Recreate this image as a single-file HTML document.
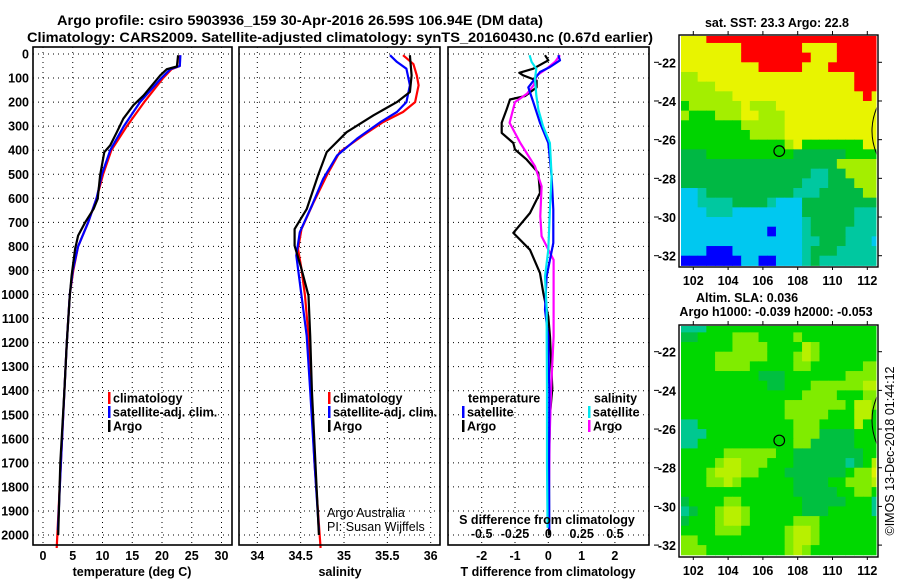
<!DOCTYPE html>
<html><head><meta charset="utf-8">
<style>
html,body{margin:0;padding:0;background:#fff;}
svg{display:block;font-family:"Liberation Sans",sans-serif;}
.tk{font-size:12.5px;font-weight:bold;fill:#000;}
.lg{font-size:12.5px;font-weight:bold;fill:#000;}
.nb{font-size:12.5px;font-weight:normal;fill:#000;}
</style></head>
<body>
<svg id="fig" width="900" height="580" viewBox="0 0 900 580" xmlns="http://www.w3.org/2000/svg">
<rect width="900" height="580" fill="#fff"/>
<text x="57" y="25" font-size="14" font-weight="bold" textLength="486" lengthAdjust="spacingAndGlyphs">Argo profile: csiro 5903936_159 30-Apr-2016 26.59S 106.94E (DM data)</text>
<text x="27" y="42" font-size="14" font-weight="bold" textLength="626" lengthAdjust="spacingAndGlyphs">Climatology: CARS2009. Satellite-adjusted climatology: synTS_20160430.nc (0.67d earlier)</text>
<g id="layer"></g>
</svg>
<script>
// ---------- profile data ----------
const tArgoDepth = [5,52,63,89,172,213,269,325,380,408,505,602,644,700,755,811,922,1005,1200,1400,1700,2000];
const tArgoVal   = [22.7,22.5,20.8,19.7,16.9,15.2,13.5,12.4,11.3,10.3,9.6,9.2,8.5,7.1,5.9,5.4,4.8,4.5,4.0,3.6,2.9,2.55];
const tClimDepth = [5,50,63,100,200,300,400,500,600,700,800,900,1000,1200,1400,1700,2054];
const tClimVal   = [23.0,23.0,21.6,20.2,17.0,14.1,11.5,10.1,9.0,7.6,5.9,5.1,4.5,4.0,3.6,3.0,2.3];
const tSatDepth  = [5,50,63,100,200,300,400,500,600,700,800,900,1000,1200,1400,1700,1980];
const tSatVal    = [23.1,23.0,21.4,19.9,16.3,13.6,11.3,9.9,9.0,7.6,5.9,5.0,4.5,4.0,3.6,3.0,2.5];

const sArgoDepth = [5,89,158,200,255,325,408,505,645,728,797,894,1005,1172,1400,1700,2000];
const sArgoVal   = [35.76,35.78,35.76,35.61,35.34,35.03,34.80,34.70,34.57,34.43,34.43,34.51,34.59,34.61,34.63,34.67,34.71];
const sClimDepth = [5,42,89,130,200,241,283,338,408,505,616,728,811,894,1005,1172,1400,1700,2054];
const sClimVal   = [35.68,35.80,35.84,35.86,35.82,35.68,35.45,35.22,34.95,34.80,34.65,34.51,34.47,34.51,34.55,34.59,34.62,34.66,34.73];
const sSatDepth  = [5,33,61,130,200,241,283,352,422,519,630,741,838,950,1172,1400,1700,1980];
const sSatVal    = [35.53,35.61,35.72,35.76,35.72,35.61,35.42,35.15,34.92,34.76,34.63,34.49,34.45,34.49,34.57,34.61,34.66,34.71];

const dtArgoDepth = [5,26,61,78,89,110,139,175,189,230,286,328,370,397,439,494,578,661,744,814,911,994,1092,1175,1390,1500,1700,2000];
const dtArgoVal   = [-0.1,0,-0.45,-0.87,-0.75,-0.35,-0.35,-0.7,-1.15,-1.25,-1.4,-1.4,-1.05,-1.0,-0.65,-0.3,-0.25,-0.55,-1.05,-0.55,-0.25,-0.15,0,0.05,0.12,0.05,0.02,0.02];
const dtSatDepth  = [5,26,54,75,139,200,286,370,508,647,786,925,1064,1175,1400,1700,1980];
const dtSatVal    = [0.3,0.35,0.05,-0.25,-0.6,-0.45,-0.25,0,0.1,0.15,0.15,-0.05,-0.1,0,0.03,0.02,0.03];
const dsArgoDepth = [5,33,61,89,130,165,200,286,370,467,550,675,758,800,856,994,1175,1400,1600,1800];
const dsArgoVal   = [0.088,0.05,-0.012,-0.087,-0.11,-0.16,-0.25,-0.29,-0.21,-0.1,-0.05,-0.06,-0.05,-0.012,0.04,0.04,0.04,0.02,0.01,0.005];
const dsSatDepth  = [5,33,61,103,172,230,300,370,508,647,814,925,1064,1175,1400,1700,1970];
const dsSatVal    = [-0.14,-0.125,-0.09,-0.1,-0.09,-0.075,-0.04,0.012,0.025,0.012,0,-0.025,-0.012,-0.012,-0.01,-0.01,-0.005];

const depthTicks = [0,100,200,300,400,500,600,700,800,900,1000,1100,1200,1300,1400,1500,1600,1700,1800,1900,2000];
const tTicks = [0,5,10,15,20,25,30];
const sTicks = [34,34.5,35,35.5,36];
const sTickLabels = ["34","34.5","35","35.5","36"];
const dtTicks = [-2,-1,0,1,2];
const dsTicks = [-0.5,-0.25,0,0.25,0.5];
const dsTickLabels = ["-0.5","-0.25","0","0.25","0.5"];

// ---------- map data (0.5 deg cells, rows from north) ----------
const latTicks = [-22,-24,-26,-28,-30,-32];
const lonTicks = [102,104,106,108,110,112];
const sstRows = [
"YYYRRRRRRRRRRRRRRRRRRRR",
"YYYYYYYRRRRRRRYYYYRRRRR",
"YYYYYYYRRRRRRRRYYYRRRRR",
"YYYYYYYYYRRRRRYYYRRRRRR",
"LLYYYYYYYYYYYYYYYYYYRRR",
"LLLLYYYYYYYYYYYYYYYYRRR",
"LLLLLLYYYYYYYYYYYYYYYRY",
"GLLLLLLYLLLYYYYYYYYYYYY",
"LGGGLLLYYLLLYYYYYYYYYYY",
"GGGGGGGLLLLLYYYYYYYYYYY",
"GGGGGGGGLLLLYYYYYYYYYYY",
"GGGGGGGGGGGGLYGGGGGGGYY",
"DDDGGGGGGGGGGDDDDDDGGGG",
"DDDDDDDDDDDDDDDDDDLLLLL",
"DDDDDDDDDDDDDDDTTDDLLLL",
"DDDDDDDDDDDDDDTTTDDDLLL",
"CCTDDDDDDDDDDTTTDDDDDLL",
"CCTTTTDDDDTCCCDDDDDDDDD",
"CCCTTTCCCCCCCCDDDDDDTTT",
"CCCCCCCCCCCCCCTDDDDDTTT",
"CCCCCCCCCCBCCCTDDDDTTTT",
"CCCCCCCCCCCCCCTTDDDTTTC",
"CCCBBBCCCCCCCCTDDDTTTTT",
"BBBBBBBCCBBCCCTDTTTTTTT"];
const slaRows = [
"TTTGGGGGGGGGGGGGGGGGGGG",
"KKGGGGLLLGGGGLGGGGGGGGG",
"GGGGGGLLLLGGGGYLGGGGGGG",
"GGGGLLLLLLGGGLYLGGGGGGG",
"GGGGLLLLGGGGGLLGGGGGGLL",
"GGGGGGGGGKKKGGGGGGGLLLL",
"GGGGGGGGGGKKGGGLLLLLLYY",
"GGGGGGGGGGGGGGLLLLGGGLL",
"GGGGGGGGGGGGLLLLLLLGYYL",
"GGGGGGGGGGGGLLLLLGGGYYG",
"TTGGGGGGGGGGGLLLGGGGYGG",
"TTTGGGGGGGGGGLLLKKKKGGG",
"TTGGGGGGGGGGGLLKKKKKGGG",
"GGGGGLLLLLLGGKKKKKKKKGG",
"GGGGLYYLLLGGGKKKKKKTKGY",
"GGGLYYYLLGGGKKKKKKKGLLZ",
"GGGLLYLGGGGGGKKKKGGLLLY",
"GGGGGGGGGGGGGKKKKKGGLLG",
"KGGGGLLGGGGGGGKKKKKGGGT",
"TKGGLYYLGGGGGGKKKGGGGGT",
"KGGGLYYLGGGGGLLLGGGGGGG",
"GGGGLLLGGGGGLYYLGGGGGGG",
"LLGGGGGGGGGGLYYLGGGGGGG",
"LLLGGGGGGGGGLYLGGGGGGGG"];
const argoLon = 106.94, argoLat = -26.59;

// ---------- drawing ----------
const NS = "http://www.w3.org/2000/svg";
const layer = document.getElementById('layer');
function mk(tag, attrs, parent){
  const e = document.createElementNS(NS, tag);
  for (const k in attrs) e.setAttribute(k, attrs[k]);
  (parent||layer).appendChild(e);
  return e;
}
const FTOP = 47, YB = 545, D0 = 54, PXPER = 0.2405;
const dY = d => D0 + d*PXPER;
const panels = [
  {x0:33, x1:232, name:'temperature-panel', fx:v=>43+v*5.95},
  {x0:239, x1:440, name:'salinity-panel', fx:v=>257.3+(v-34)*86.7},
  {x0:448, x1:649, name:'difference-panel', fx:v=>548.3+v*33.3}
];
const dsX = v => 548.3 + v*133.3;

panels.forEach((p,i)=>{
  const g = mk('g',{});
  
  
  depthTicks.forEach(d=>{
    const l = mk('line',{x1:p.x0,x2:p.x1,y1:dY(d),y2:dY(d),stroke:'#000','stroke-width':1,'stroke-dasharray':'1,4'},g);
    
    
  });
  const xt = i===0?tTicks:(i===1?sTicks:dtTicks);
  xt.forEach(v=>{
    const x = p.fx(v);
    const l = mk('line',{x1:x,x2:x,y1:FTOP,y2:YB,stroke:'#000','stroke-width':1,'stroke-dasharray':'1,4'},g);
    
    
  });
});

function series(depths, vals, fx, color, name){
  const pts = depths.map((d,k)=>fx(vals[k]).toFixed(1)+','+dY(d).toFixed(1)).join(' ');
  const pl = mk('polyline',{points:pts,fill:'none',stroke:color,'stroke-width':2.2,'stroke-linejoin':'round'});
  
  
}
series(tClimDepth,tClimVal,panels[0].fx,'#ff0000','temp-climatology-line');
series(tSatDepth,tSatVal,panels[0].fx,'#0000ff','temp-satellite-line');
series(tArgoDepth,tArgoVal,panels[0].fx,'#000','temp-argo-line');
series(sClimDepth,sClimVal,panels[1].fx,'#ff0000','sal-climatology-line');
series(sSatDepth,sSatVal,panels[1].fx,'#0000ff','sal-satellite-line');
series(sArgoDepth,sArgoVal,panels[1].fx,'#000','sal-argo-line');
series(dtArgoDepth,dtArgoVal,panels[2].fx,'#000','t-diff-argo-line');
series(dsArgoDepth,dsArgoVal,dsX,'#ff00ff','s-diff-argo-line');
series(dtSatDepth,dtSatVal,panels[2].fx,'#0000ff','t-diff-satellite-line');
series(dsSatDepth,dsSatVal,dsX,'#00e8f0','s-diff-satellite-line');

panels.forEach((p,i)=>{
  const r = mk('rect',{x:p.x0,y:FTOP,width:p.x1-p.x0,height:YB-FTOP,fill:'none',stroke:'#000','stroke-width':1.6});
  
  
});
depthTicks.forEach(d=>{
  const t = mk('text',{x:29,y:dY(d)+4.5,'text-anchor':'end',class:'tk'});
  t.textContent = d;
  
  
});
tTicks.forEach(v=>{
  const t = mk('text',{x:panels[0].fx(v),y:560,'text-anchor':'middle',class:'tk'});
  t.textContent = v;
  
  
});
sTicks.forEach((v,k)=>{
  const t = mk('text',{x:panels[1].fx(v),y:560,'text-anchor':'middle',class:'tk'});
  t.textContent = sTickLabels[k];
  
  
});
dtTicks.forEach(v=>{
  const t = mk('text',{x:panels[2].fx(v),y:560,'text-anchor':'middle',class:'tk'});
  t.textContent = v;
  
  
});
dsTicks.forEach((v,k)=>{
  const t = mk('text',{x:dsX(v),y:538,'text-anchor':'middle',class:'tk'});
  t.textContent = dsTickLabels[k];
  
  
});
function label(x,y,txt,name,anchor,cls,extra){
  const t = mk('text',Object.assign({x:x,y:y,'text-anchor':anchor||'start',class:cls||'lg'},extra||{}));
  t.textContent = txt;
  
  
  return t;
}
label(132,576,'temperature (deg C)','temperature-axis-title','middle');
label(340,576,'salinity','salinity-axis-title','middle');
label(548,576,'T difference from climatology','t-diff-axis-title','middle');
label(547,524,'S difference from climatology','s-diff-axis-title','middle');
label(327,517,'Argo Australia','credit-argo-australia','start','nb');
label(327,531,'PI: Susan Wijffels','credit-pi','start','nb');

function legendEntry(bx,y,color,txt,name){
  const g = mk('g',{});
  
  
  if(color) mk('rect',{x:bx,y:y-6,width:2.5,height:12,fill:color},g);
  const t = mk('text',{x:bx+5,y:y+4.5,class:'lg'},g);
  t.textContent = txt;
}
legendEntry(108,398,'#ff0000','climatology','legend-temp-climatology');
legendEntry(108,412,'#0000ff','satellite-adj. clim.','legend-temp-satellite');
legendEntry(108,426,'#000','Argo','legend-temp-argo');
legendEntry(328,398,'#ff0000','climatology','legend-sal-climatology');
legendEntry(328,412,'#0000ff','satellite-adj. clim.','legend-sal-satellite');
legendEntry(328,426,'#000','Argo','legend-sal-argo');
legendEntry(463,398,null,'temperature','legend-temperature-heading');
legendEntry(462,412,'#0000ff','satellite','legend-t-diff-satellite');
legendEntry(462,426,'#000','Argo','legend-t-diff-argo');
legendEntry(589,398,null,'salinity','legend-salinity-heading');
legendEntry(588,412,'#00e8f0','satellite','legend-s-diff-satellite');
legendEntry(588,426,'#ff00ff','Argo','legend-s-diff-argo');

// ---------- maps ----------
const sstColors = {R:'#ff0000',Y:'#e8f400',L:'#a4ee00',G:'#00d400',D:'#00b844',T:'#00c8a0',C:'#00c8f0',B:'#0000ff'};
const slaColors = {G:'#00d800',K:'#00c040',T:'#00c890',L:'#80ec00',Y:'#b8f000',Z:'#e0f000'};
const lonX = lon => 693.3 + (lon-102)*17.4;
function drawMap(rows, colors, latTop, boxY0, boxY1, name){
  const latY = lat => latTop - (lat+22)*19.34;
  const g = mk('g',{});
  
  
  const cid = name+'-clip';
  const cp = mk('clipPath',{id:cid},g);
  mk('rect',{x:681,y:boxY0+1,width:195.5,height:boxY1-boxY0-2},cp);
  const cg = mk('g',{'clip-path':'url(#'+cid+')'},g);
  rows.forEach((row,r)=>{
    for(let c=0;c<row.length;c++){
      const lon = 101.25 + c*0.5, lat = -20.5 - r*0.5;
      const x = lonX(lon), y = latY(lat);
      const cell = mk('rect',{x:x.toFixed(2),y:y.toFixed(2),width:9.2,height:10.2,fill:colors[row[c]]},cg);
      
      
    }
  });
  const cy = latY(-24.2), cy2 = latY(-26.9);
  mk('path',{d:`M878 ${cy} Q866 ${(cy+cy2)/2} 878 ${cy2}`,fill:'none',stroke:'#000','stroke-width':1},cg);
  const m = mk('circle',{cx:lonX(argoLon),cy:latY(argoLat),r:5.3,fill:'none',stroke:'#000','stroke-width':1.2},g);
  
  
  mk('rect',{x:679,y:boxY0,width:199,height:boxY1-boxY0,fill:'none',stroke:'#000','stroke-width':1.4},g);
  latTicks.forEach(l=>{
    const y = latY(l);
    mk('line',{x1:878,x2:882,y1:y,y2:y,stroke:'#000'},g);
    mk('line',{x1:654,x2:659,y1:y,y2:y,stroke:'#000'},g);
    const t = mk('text',{x:676,y:y+5,'text-anchor':'end',class:'tk'},g);
    t.textContent = l;
    
    
  });
  lonTicks.forEach(l=>{
    const x = lonX(l);
    mk('line',{x1:x,x2:x,y1:boxY0-4,y2:boxY0,stroke:'#000'},g);
    mk('line',{x1:x,x2:x,y1:boxY1,y2:boxY1+3,stroke:'#000'},g);
    const t = mk('text',{x:x,y:boxY1+18,'text-anchor':'middle',class:'tk'},g);
    t.textContent = l;
    
    
  });
}
drawMap(sstRows, sstColors, 62.3, 35, 267, 'sst-map');
drawMap(slaRows, slaColors, 351.7, 325, 557, 'sla-map');
label(777,27,'sat. SST: 23.3 Argo: 22.8','sst-map-title','middle');
label(747,302,'Altim. SLA: 0.036','sla-map-title','middle');
label(776,316,'Argo h1000: -0.039 h2000: -0.053','sla-map-subtitle','middle');
label(0,0,'©IMOS 13-Dec-2018 01:44:12','imos-timestamp','middle','nb',{transform:'translate(894,451) rotate(-90)'});
</script>
</body></html>
